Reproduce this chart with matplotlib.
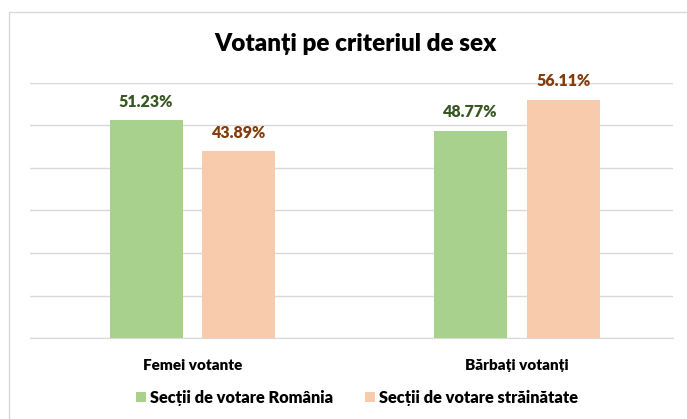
import matplotlib
matplotlib.use("Agg")
import matplotlib.pyplot as plt
from matplotlib.patches import Patch, Rectangle
import numpy as np

categories = ["Femei votante", "Bărbați votanți"]
series_names = ["Secții de votare România", "Secții de votare străinătate"]
romania = [51.23, 48.77]
strainatate = [43.89, 56.11]
title = "Votanți pe criteriul de sex"

bar_colors = ["#A9D18E", "#F8CBAD"]
label_colors = ["#385723", "#843C0C"]

plt.rcParams['font.family'] = ['Lato', 'DejaVu Sans']
WT = "heavy"

fig = plt.figure(figsize=(6.87, 4.19), dpi=100)
ax = fig.add_axes([30/687, 1-338/419, (673-30)/687, (338-83)/419])

# outer border
fig.patches.append(Rectangle((9/687, -0.1), 1.2, 1.1 - 12/419, transform=fig.transFigure,
                             fill=False, edgecolor="#D9D9D9", linewidth=1.0))

x = np.arange(len(categories))
w = 0.225
off = 0.143
for vals, dx, c, lc in [(romania, -off, bar_colors[0], label_colors[0]),
                        (strainatate, off, bar_colors[1], label_colors[1])]:
    bars = ax.bar(x + dx, vals, width=w, color=c, zorder=3)
    for b, v in zip(bars, vals):
        ax.text(b.get_x() + b.get_width()/2, v + 2.5, f"{v:.2f}%", ha="center", va="bottom",
                color=lc, fontsize=11.5, fontweight=WT, zorder=4)

ax.set_xlim(-0.5008, 1.4807)
ax.set_ylim(0, 60)
ax.set_yticks(np.arange(0, 61, 10))
ax.yaxis.grid(True, color="#D9D9D9", linewidth=1.0, zorder=0)
ax.set_yticklabels([])
ax.tick_params(axis="y", length=0)
ax.tick_params(axis="x", length=0, pad=15)
ax.set_xticks(x)
ax.set_xticklabels(categories, fontsize=11, fontweight=WT, color="#000000")
for s in ["top", "right", "left"]:
    ax.spines[s].set_visible(False)
ax.spines["bottom"].set_color("#D9D9D9")

fig.text(355/687, 1-44/419, title, ha="center", va="center", fontsize=17.5, fontweight=WT)

handles = [Patch(facecolor=bar_colors[0]), Patch(facecolor=bar_colors[1])]
fig.legend(handles, series_names, loc="center", bbox_to_anchor=(357/687, 1-398/419), ncol=2,
           frameon=False, handlelength=0.6, handleheight=0.6, handletextpad=0.2,
           columnspacing=2.0, prop={"size": 11.8, "weight": WT})

fig.savefig("out.png", dpi=100)
